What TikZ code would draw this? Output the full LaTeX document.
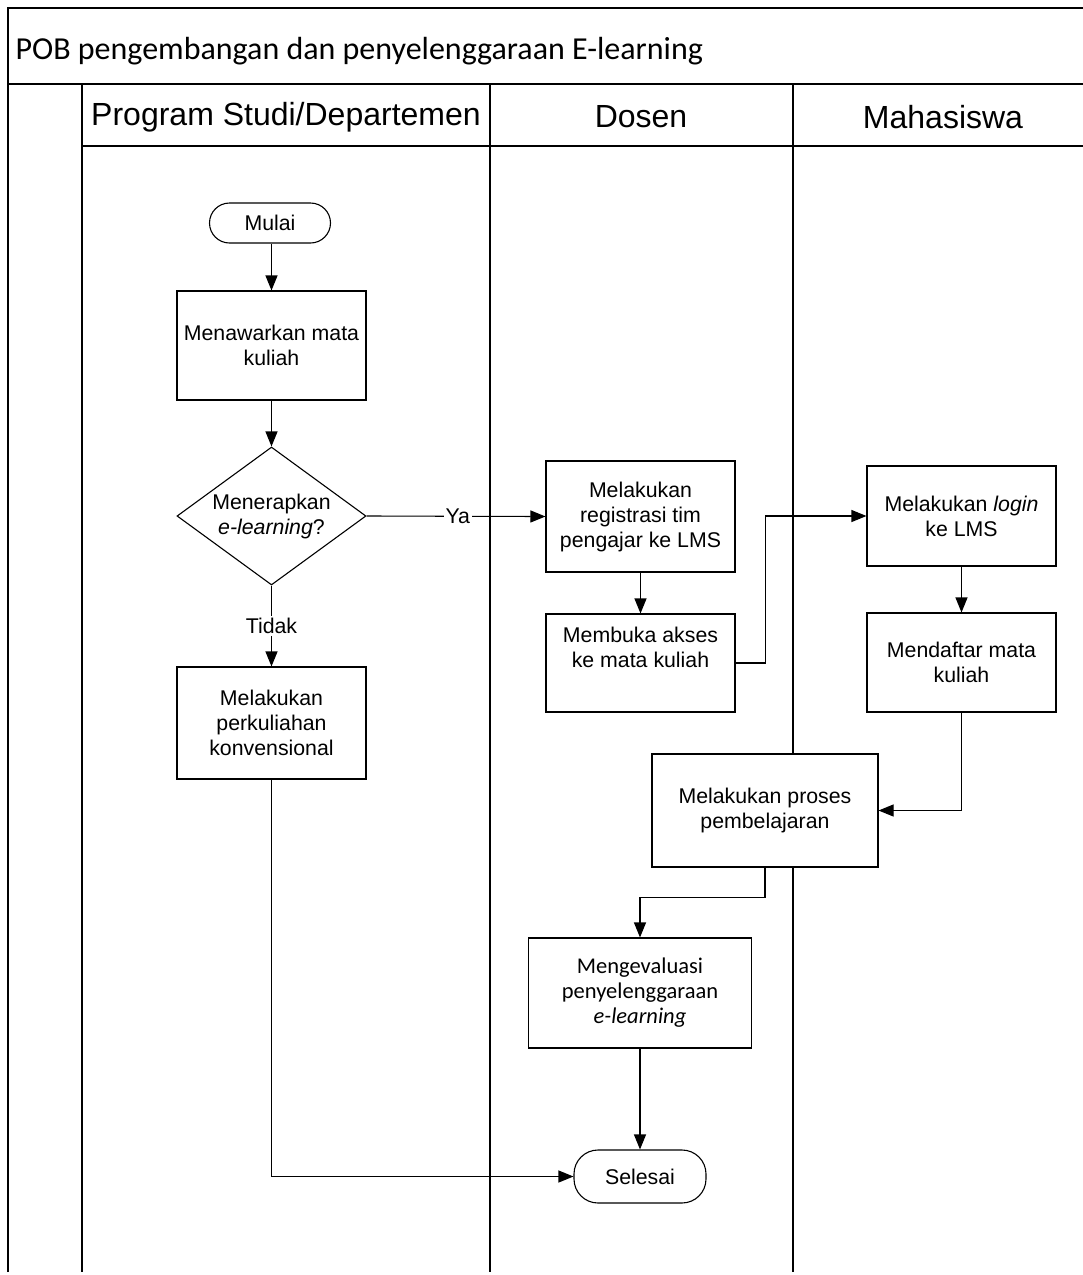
\documentclass[tikz,border=0pt]{standalone}
\usepackage{fontspec}
\setmainfont{Liberation Sans}
\newfontfamily\carlito{Carlito}
\usetikzlibrary{arrows.meta,shapes.geometric}
\begin{document}
\begin{tikzpicture}[x=1pt,y=-1pt,line width=1.1pt,
  txt/.style={font=\fontsize{21.3}{25}\selectfont},
  box/.style={draw,fill=white,rectangle,inner sep=0pt,align=center,txt},
  term/.style={box,rounded corners=20pt},
  dec/.style={draw,fill=white,diamond,inner sep=0pt,align=center,txt},
  arr/.style={-{Triangle[length=15pt,width=12pt]}},
  lbl/.style={fill=white,inner sep=2pt,txt},
  head/.style={font=\fontsize{32}{36}\selectfont}]
\path[use as bounding box] (0,0) rectangle (1083,1275);
% frame and swimlanes
\draw (8,1272) -- (8,8) -- (1083,8);
\draw (8,84) -- (1083,84);
\draw (82,146) -- (1083,146);
\draw (82,84) -- (82,1272);
\draw (490,84) -- (490,1272);
\draw (793,84) -- (793,1272);
\node[anchor=west,inner sep=0pt,font=\carlito\fontsize{32}{36}\selectfont] (title) at (15,51) {POB pengembangan dan penyelenggaraan E-learning};
\node[head] (h1) at (286,117) {Program Studi/Departemen};
\node[head] (h2) at (641,117) {Dosen};
\node[head] (h3) at (943,117) {Mahasiswa};
% nodes
\node[term,minimum width=121pt,minimum height=40pt] (mulai) at (270,223) {Mulai};
\node[box,minimum width=189pt,minimum height=109pt] (tawar) at (271.5,345.5) {Menawarkan mata\\kuliah};
\node[dec,shape aspect=1.37,minimum width=189pt,minimum height=138pt] (d) at (271.5,516) {Menerapkan\\\textit{e-learning}?};
\node[box,minimum width=189pt,minimum height=112pt] (konv) at (271.5,723) {Melakukan\\perkuliahan\\konvensional};
\node[box,minimum width=189pt,minimum height=111pt] (reg) at (640.5,516.5) {Melakukan\\registrasi tim\\pengajar ke LMS};
\node[box,minimum width=189pt,minimum height=98pt] (buka) at (640.5,663) {Membuka akses\\ke mata kuliah\\[6pt]\mbox{}};
\node[box,minimum width=189pt,minimum height=100pt] (login) at (961.5,516) {Melakukan \textit{login}\\ke LMS};
\node[box,minimum width=189pt,minimum height=99pt] (daftar) at (961.5,662.5) {Mendaftar mata\\kuliah};
\node[box,minimum width=226pt,minimum height=113pt] (proses) at (765,810.5) {Melakukan proses\\pembelajaran};
\node[box,minimum width=223pt,minimum height=110pt,font=\carlito\fontsize{22.5}{25}\selectfont] (eval) at (640,993) {Mengevaluasi\\penyelenggaraan\\\textit{e-learning}};
\node[term,minimum width=132pt,minimum height=53pt,rounded corners=24pt] (selesai) at (640,1176.5) {Selesai};
% connectors
\draw[arr] (mulai.south -| tawar.north) -- (tawar.north);
\draw[arr] (tawar.south) -- (d.north);
\draw[arr] (d.south) -- node[lbl,pos=0.5] (tidak) {Tidak} (konv.north);
\draw[arr] (d.east) -- node[lbl,pos=0.51] (ya) {Ya} (reg.west);
\draw[arr] (reg.south) -- (buka.north);
\draw[arr] (buka.east) -- ++(30,0) |- (login.west);
\draw[arr] (login.south) -- (daftar.north);
\draw[arr] (daftar.south) |- (proses.east);
\draw[arr] (proses.south) -- ++(0,30) -| (eval.north);
\draw[arr] (eval.south) -- (selesai.north);
\draw[arr] (konv.south) |- (selesai.west);
\end{tikzpicture}
\end{document}
